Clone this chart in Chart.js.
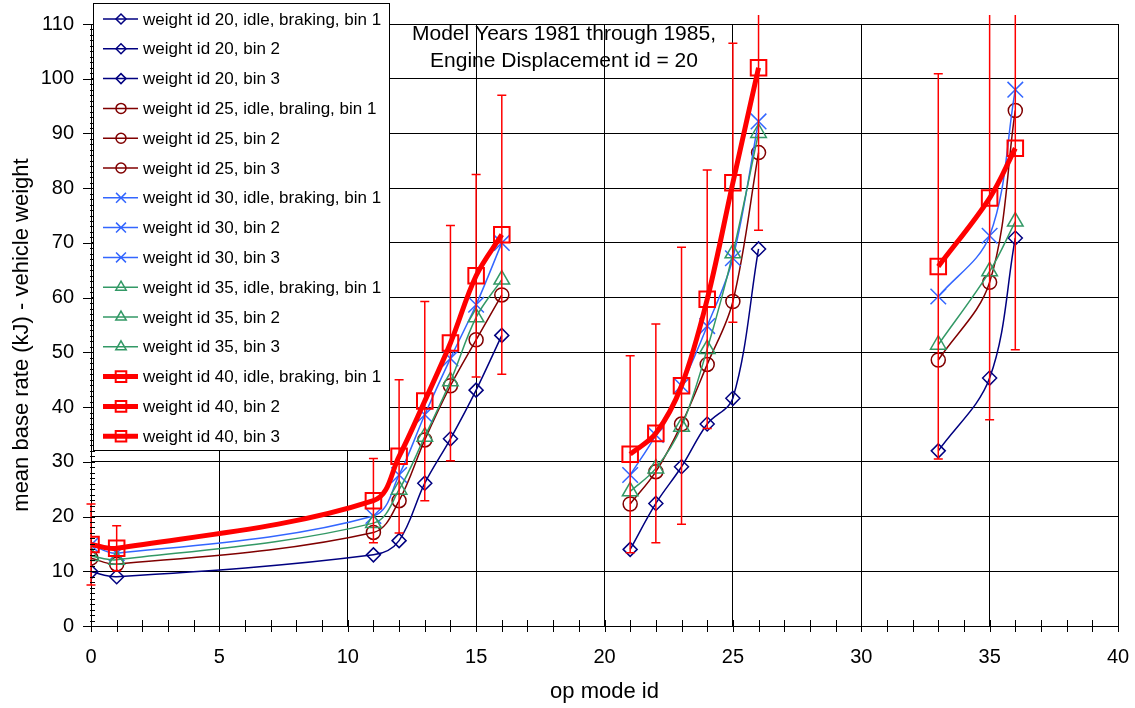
<!DOCTYPE html>
<html><head><meta charset="utf-8">
<script src="https://cdn.jsdelivr.net/npm/chart.js@4.4.1/dist/chart.umd.min.js"></script>
<style>html,body{margin:0;padding:0;background:#fff;} canvas{display:block}</style>
</head><body>
<canvas id="c" width="1135" height="708"></canvas>
<script>
// ---- data ----
const opModesBin1 = [0, 1, 11, 12, 13, 14, 15, 16];
const opModesBin2 = [21, 22, 23, 24, 25, 26];
const opModesBin3 = [33, 35, 36];

const w20Bin1 = [9.9, 9.0, 13.0, 15.6, 26.1, 34.2, 43.1, 53.1];
const w20Bin2 = [14.0, 22.4, 29.1, 36.9, 41.6, 68.9];
const w20Bin3 = [32.0, 45.3, 70.9];
const w25Bin1 = [12.4, 11.3, 17.1, 22.9, 34.0, 43.9, 52.3, 60.5];
const w25Bin2 = [22.3, 28.2, 36.9, 47.8, 59.3, 86.5];
const w25Bin3 = [48.6, 62.8, 94.2];
const w30Bin1 = [14.8, 13.3, 20.1, 27.6, 38.6, 48.9, 58.7, 70.0];
const w30Bin2 = [27.6, 34.9, 43.9, 54.8, 67.2, 92.2];
const w30Bin3 = [60.2, 71.3, 98.0];
const w35Bin1 = [12.8, 12.1, 18.8, 24.9, 34.6, 44.7, 56.4, 63.3];
const w35Bin2 = [24.6, 28.8, 36.4, 50.6, 68.1, 90.1];
const w35Bin3 = [51.4, 64.8, 73.9];
const w40Bin1 = [14.9, 14.2, 22.9, 31.0, 41.1, 51.7, 64.0, 71.5];
const w40Bin2 = [31.4, 35.2, 43.9, 59.7, 81.0, 102.0];
const w40Bin3 = [65.7, 78.2, 87.3];
const err40Bin1 = [7.4, 4.1, 7.7, 14.0, 18.2, 21.5, 18.5, 25.5];
const err40Bin2 = [18.0, 20.0, 25.3, 23.6, 25.5, 29.7];
const err40Bin3 = [35.2, 40.5, 36.8];

const seriesLabels = [
  'weight id 20, idle, braking, bin 1', 'weight id 20, bin 2', 'weight id 20, bin 3',
  'weight id 25, idle, braling, bin 1', 'weight id 25, bin 2', 'weight id 25, bin 3',
  'weight id 30, idle, braking, bin 1', 'weight id 30, bin 2', 'weight id 30, bin 3',
  'weight id 35, idle, braking, bin 1', 'weight id 35, bin 2', 'weight id 35, bin 3',
  'weight id 40, idle, braking, bin 1', 'weight id 40, bin 2', 'weight id 40, bin 3'
];
const seriesX = [opModesBin1, opModesBin2, opModesBin3];
const seriesY = [
  [w20Bin1, w20Bin2, w20Bin3],
  [w25Bin1, w25Bin2, w25Bin3],
  [w30Bin1, w30Bin2, w30Bin3],
  [w35Bin1, w35Bin2, w35Bin3],
  [w40Bin1, w40Bin2, w40Bin3]
];
const errors40 = [err40Bin1, err40Bin2, err40Bin3];

const xTickMin = 0, xTickMax = 40, xMajor = 5;
const yTickMin = 0, yTickMax = 110, yMajor = 10;
const titleLines = ['Model Years 1981 through 1985,', 'Engine Displacement id = 20'];
const xTitle = 'op mode id';
const yTitle = 'mean base rate (kJ) - vehicle weight';

// ---- styles ----
const FONT = '"Liberation Sans", Arial, Helvetica, sans-serif';
const groupStyles = [
  {color: '#000080', pointStyle: 'rectRot', radius: 7, lineWidth: 1.5, pbw: 1.5, lRadius: 5, order: 5},
  {color: '#800000', pointStyle: 'circle', radius: 7, lineWidth: 1.5, pbw: 1.5, lRadius: 5, order: 4},
  {color: '#3366FF', pointStyle: 'crossRot', radius: 11, lineWidth: 1.5, pbw: 1.5, lRadius: 7, order: 3},
  {color: '#339966', pointStyle: 'triangle', radius: 9, lineWidth: 1.5, pbw: 1.5, lRadius: 6, order: 2},
  {color: '#FF0000', pointStyle: 'rect', radius: 11, lineWidth: 5, pbw: 2, lRadius: 7.5, order: 1}
];

const datasets = [];
seriesY.forEach((bins, g) => {
  const st = groupStyles[g];
  bins.forEach((ys, b) => {
    datasets.push({
      label: seriesLabels[g * 3 + b],
      data: seriesX[b].map((x, i) => ({x: x, y: ys[i]})),
      borderColor: st.color,
      backgroundColor: 'rgba(0,0,0,0)',
      borderWidth: st.lineWidth,
      pointStyle: st.pointStyle,
      pointRadius: st.radius,
      pointHoverRadius: st.radius,
      pointBorderColor: st.color,
      pointBackgroundColor: 'rgba(0,0,0,0)',
      pointBorderWidth: st.pbw,
      tension: 0.35,
      fill: false,
      order: st.order,
      _group: g, _bin: b
    });
  });
});

const errorBarPlugin = {
  id: 'errorBars',
  afterDatasetsDraw(chart) {
    const ctx = chart.ctx, xs = chart.scales.x, ys = chart.scales.y, ca = chart.chartArea;
    ctx.save();
    ctx.beginPath();
    ctx.rect(ca.left - 10, ca.top - 9, ca.right - ca.left + 20, ca.bottom - ca.top + 9);
    ctx.clip();
    ctx.strokeStyle = '#FF0000';
    ctx.lineWidth = 1.5;
    chart.data.datasets.forEach((ds) => {
      if (ds._group !== 4) return;
      const errs = errors40[ds._bin];
      ds.data.forEach((p, i) => {
        const px = xs.getPixelForValue(p.x);
        const hi = ys.getPixelForValue(p.y + errs[i]);
        const lo = ys.getPixelForValue(p.y - errs[i]);
        ctx.beginPath();
        ctx.moveTo(px, hi); ctx.lineTo(px, lo);
        ctx.moveTo(px - 4.5, hi); ctx.lineTo(px + 4.5, hi);
        ctx.moveTo(px - 4.5, lo); ctx.lineTo(px + 4.5, lo);
        ctx.stroke();
      });
    });
    ctx.restore();
  }
};

const ticksPlugin = {
  id: 'axisTicks',
  afterDraw(chart) {
    const ctx = chart.ctx, xs = chart.scales.x, ys = chart.scales.y, ca = chart.chartArea;
    ctx.save();
    ctx.strokeStyle = '#000';
    ctx.lineWidth = 1;
    ctx.beginPath();
    for (let v = xTickMin; v <= xTickMax; v++) {
      const px = Math.round(xs.getPixelForValue(v)) + 0.5;
      ctx.moveTo(px, Math.round(ca.bottom) - 6);
      ctx.lineTo(px, Math.round(ca.bottom) + 6);
    }
    for (let v = yTickMin; v <= yTickMax; v++) {
      const py = Math.round(ys.getPixelForValue(v)) + 0.5;
      const major = v % yMajor === 0;
      ctx.moveTo(Math.round(ca.left) - (major ? 8 : 1), py);
      ctx.lineTo(Math.round(ca.left) + 4, py);
    }
    ctx.stroke();
    ctx.restore();
  }
};

const overlayPlugin = {
  id: 'overlay',
  afterDraw(chart) {
    const ctx = chart.ctx;
    ctx.save();
    // y axis title
    ctx.fillStyle = '#000';
    ctx.font = '22px ' + FONT;
    ctx.textAlign = 'center';
    ctx.textBaseline = 'middle';
    ctx.save();
    ctx.translate(22, 335);
    ctx.rotate(-Math.PI / 2);
    ctx.fillText(yTitle, 0, 0);
    ctx.restore();
    // title text inside plot
    ctx.font = '21px ' + FONT;
    ctx.textAlign = 'center';
    ctx.textBaseline = 'alphabetic';
    ctx.fillText(titleLines[0], 564, 39.5);
    ctx.fillText(titleLines[1], 564, 67);
    // legend
    const lx = 93.5, ly = 3.5, lw = 296, lh = 447;
    ctx.fillStyle = '#fff';
    ctx.fillRect(lx, ly, lw, lh);
    ctx.strokeStyle = '#000';
    ctx.lineWidth = 1;
    ctx.strokeRect(lx, ly, lw, lh);
    chart.data.datasets.forEach((ds, i) => {
      const st = groupStyles[ds._group];
      const cy = 19 + i * 29.8;
      ctx.strokeStyle = st.color;
      ctx.lineWidth = st.lineWidth;
      ctx.beginPath();
      ctx.moveTo(103, cy); ctx.lineTo(138, cy);
      ctx.stroke();
      ctx.fillStyle = 'rgba(0,0,0,0)';
      ctx.lineWidth = st.pbw;
      Chart.helpers.drawPoint(ctx, {pointStyle: st.pointStyle, radius: st.lRadius, rotation: 0, borderWidth: st.pbw}, 121, cy);
      ctx.fillStyle = '#000';
      ctx.font = '17px ' + FONT;
      ctx.textAlign = 'left';
      ctx.textBaseline = 'middle';
      ctx.fillText(ds.label, 143, cy + 1);
    });
    ctx.restore();
  }
};

new Chart(document.getElementById('c'), {
  type: 'line',
  data: {datasets: datasets},
  options: {
    responsive: false,
    animation: false,
    events: [],
    layout: {padding: {top: 24, right: 17, left: 0, bottom: 0}},
    plugins: {legend: {display: false}, tooltip: {enabled: false}, title: {display: false}},
    scales: {
      x: {
        type: 'linear', min: xTickMin, max: xTickMax,
        ticks: {stepSize: xMajor, color: '#000', font: {family: FONT, size: 20}, padding: 19, maxRotation: 0},
        grid: {color: '#000', lineWidth: 1, drawTicks: false},
        border: {display: true, color: '#000', width: 1},
        title: {display: true, text: xTitle, color: '#000', font: {family: FONT, size: 22}, padding: {top: 0, bottom: 3}},
        afterFit(scale) { scale.height = 82; scale.paddingLeft = 0; scale.paddingRight = 0; }
      },
      y: {
        type: 'linear', min: yTickMin, max: yTickMax,
        ticks: {stepSize: yMajor, color: '#000', font: {family: FONT, size: 20}, padding: 17},
        grid: {color: '#000', lineWidth: 1, drawTicks: false},
        border: {display: true, color: '#000', width: 1},
        title: {display: false},
        afterFit(scale) { scale.width = 91; scale.paddingTop = 0; scale.paddingBottom = 0; }
      }
    }
  },
  plugins: [errorBarPlugin, ticksPlugin, overlayPlugin]
});
</script>
</body></html>
